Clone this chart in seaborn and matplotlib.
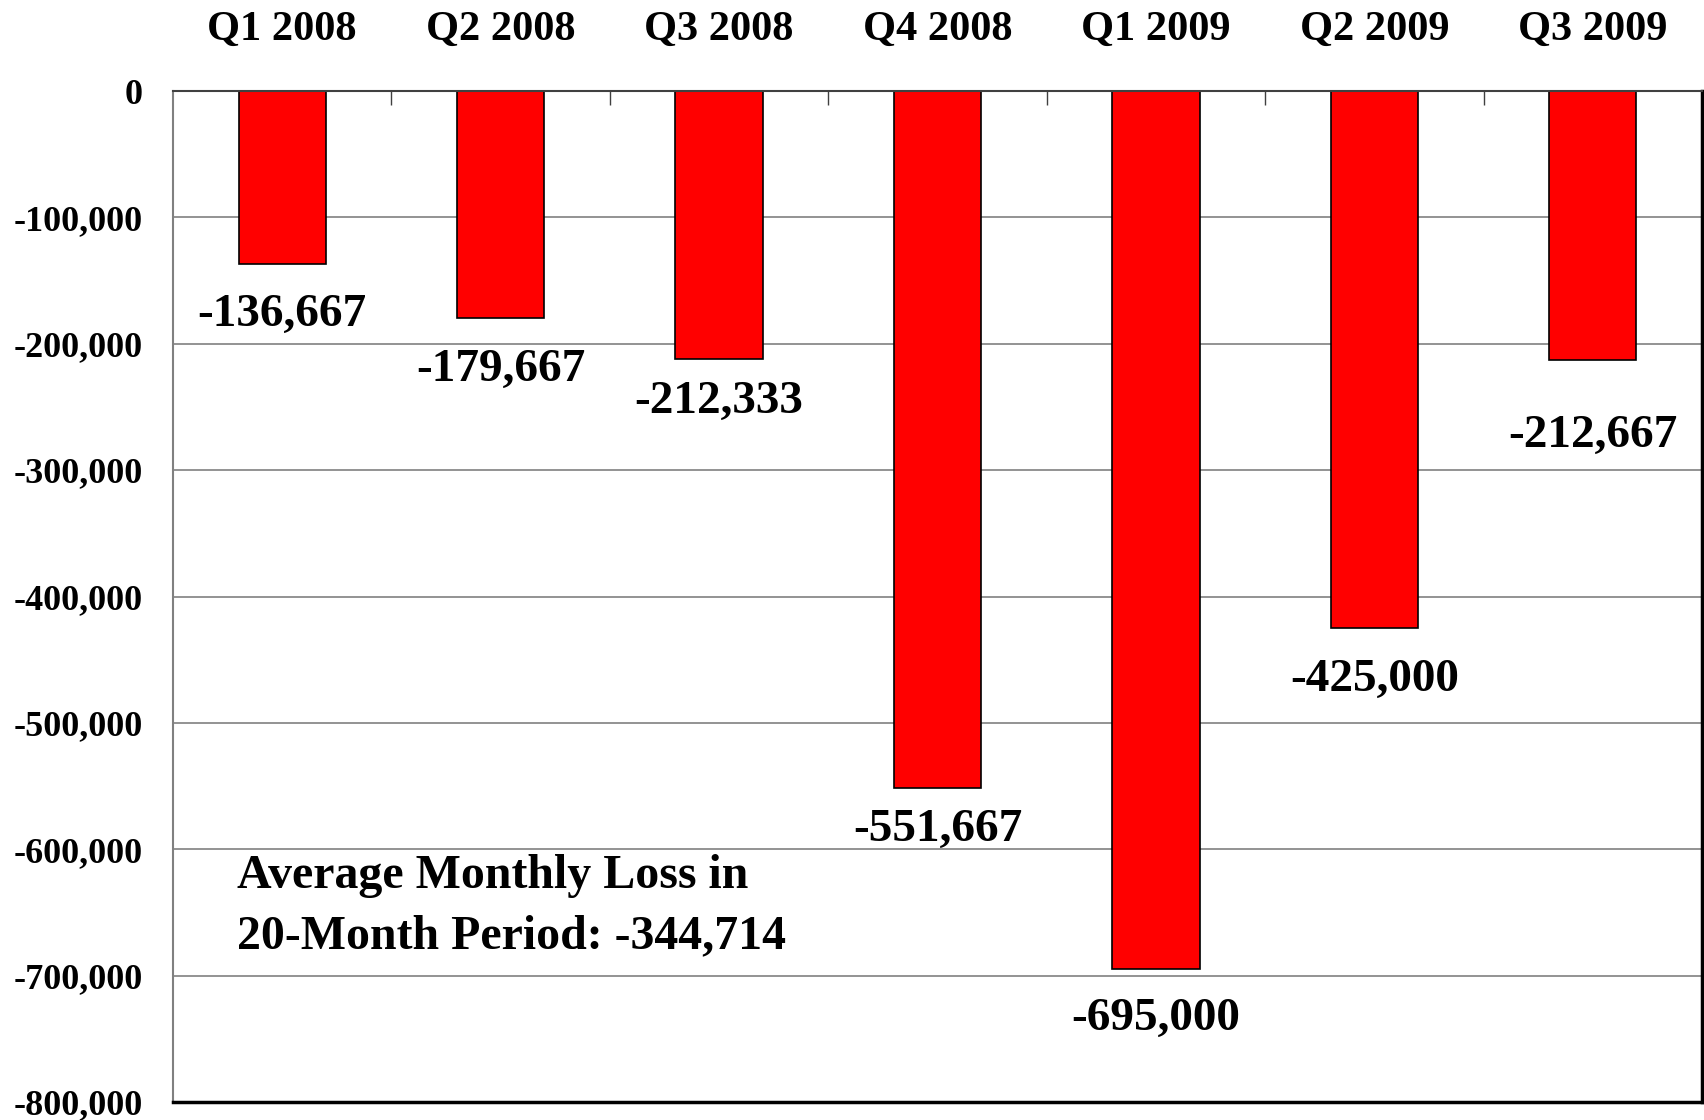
import matplotlib
matplotlib.use("Agg")
import matplotlib.pyplot as plt
import seaborn as sns
import pandas as pd
from matplotlib.ticker import FuncFormatter, MultipleLocator, FixedLocator

sns.set_style("white")
plt.rcParams['font.family'] = ['Liberation Serif', 'DejaVu Serif']
plt.rcParams['font.weight'] = 'bold'
plt.rcParams['axes.unicode_minus'] = False
plt.rcParams['text.color'] = 'black'
plt.rcParams['xtick.labelcolor'] = 'black'
plt.rcParams['ytick.labelcolor'] = 'black'

quarters = ["Q1 2008", "Q2 2008", "Q3 2008", "Q4 2008", "Q1 2009", "Q2 2009", "Q3 2009"]
avg_job_change = [-136667, -179667, -212333, -551667, -695000, -425000, -212667]
avg_note = "Average Monthly Loss in\n20-Month Period: -344,714"

# label offsets below bar end (points), hand placed like the original
label_offsets = [37, 37, 31, 30, 36, 37, 55]

df = pd.DataFrame({"quarter": quarters, "value": avg_job_change})

fig = plt.figure(figsize=(17.04, 11.2), dpi=100)
ax = fig.add_axes([173/1704, 1 - 1102/1120, 1529/1704, 1011/1120])

sns.barplot(data=df, x="quarter", y="value", color="#FF0000", saturation=1,
            width=0.4, edgecolor="black", linewidth=1.2, ax=ax)

ax.set_ylim(-800000, 0)
ax.set_xlim(-0.5, len(quarters) - 0.5)
ax.yaxis.set_major_locator(MultipleLocator(100000))
ax.yaxis.set_major_formatter(FuncFormatter(lambda v, p: f"{int(round(v)):,}"))
ax.grid(axis="y", color="#808080", linewidth=1.2)
ax.set_axisbelow(True)

ax.xaxis.tick_top()
ax.tick_params(axis="x", which="major", length=0, pad=30, labelsize=30.5)
ax.xaxis.set_minor_locator(FixedLocator([i + 0.5 for i in range(len(quarters) - 1)]))
ax.tick_params(axis="x", which="minor", direction="in", length=10, width=1, color="#404040",
               top=True, bottom=False)
ax.tick_params(axis="y", direction="out", length=8.6, width=1.2, color="#808080",
               pad=13, labelsize=26)
for lab in ax.get_xticklabels() + ax.get_yticklabels():
    lab.set_fontweight("bold")
ax.set_xlabel("")
ax.set_ylabel("")

ax.spines["left"].set_color("#808080")
ax.spines["left"].set_linewidth(1.5)
ax.spines["top"].set_color("#404040")
ax.spines["top"].set_linewidth(1.5)
ax.spines["bottom"].set_color("black")
ax.spines["bottom"].set_linewidth(2.5)
ax.spines["right"].set_color("black")
ax.spines["right"].set_linewidth(2.5)

for i, (v, off) in enumerate(zip(avg_job_change, label_offsets)):
    ax.annotate(f"{v:,}", xy=(i, v), xytext=(0, -off), textcoords="offset points",
                ha="center", va="center", fontsize=34, fontweight="bold")

ax.text(0.042, -604000, avg_note, transform=ax.get_yaxis_transform(),
        ha="left", va="top", fontsize=34.5, fontweight="bold", linespacing=1.48)

fig.savefig("out.png", dpi=100)
